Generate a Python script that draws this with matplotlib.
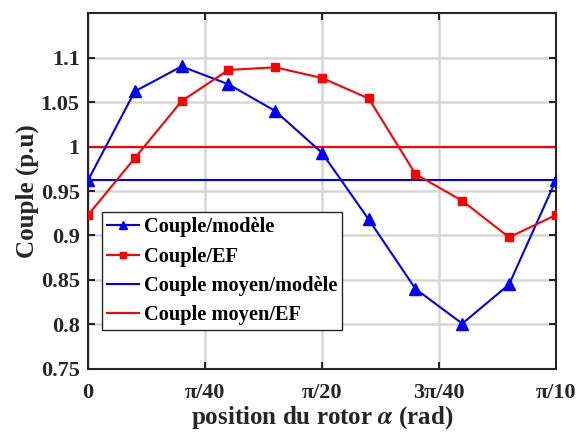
import numpy as np
import matplotlib
matplotlib.use("Agg")
import matplotlib.pyplot as plt

plt.rcParams['font.family'] = ['Liberation Serif', 'DejaVu Serif']
plt.rcParams['font.weight'] = 'bold'
plt.rcParams['mathtext.fontset'] = 'stix'

k = np.arange(11)
x = k * np.pi / 100
couple_modele = [0.962, 1.062, 1.090, 1.070, 1.040, 0.993, 0.918, 0.840, 0.801, 0.845, 0.962]
couple_ef = [0.923, 0.987, 1.051, 1.086, 1.089, 1.077, 1.054, 0.969, 0.939, 0.898, 0.923]
moyen_modele = 0.962
moyen_ef = 1.0

xticks = [0, np.pi/40, np.pi/20, 3*np.pi/40, np.pi/10]
xticklabels = ['0', 'π/40', 'π/20', '3π/40', 'π/10']
yticks = [0.75, 0.8, 0.85, 0.9, 0.95, 1.0, 1.05, 1.1]
yticklabels = ['0.75', '0.8', '0.85', '0.9', '0.95', '1', '1.05', '1.1']

fig = plt.figure(figsize=(5.76, 4.34), dpi=100)
ax = fig.add_axes([0.1528, 0.1498, 0.8122, 0.8202])

ax.plot(x, couple_modele, '-^', color='blue', lw=1.5, ms=9, label='Couple/modèle', zorder=3)
ax.plot(x, couple_ef, '-s', color='red', lw=1.5, ms=6, label='Couple/EF', zorder=3)
ax.plot([x[0], x[-1]], [moyen_modele]*2, '-', color='blue', lw=1.5, label='Couple moyen/modèle', zorder=2)
ax.plot([x[0], x[-1]], [moyen_ef]*2, '-', color='red', lw=1.5, label='Couple moyen/EF', zorder=2)

ax.set_xlim(0, np.pi/10)
ax.set_ylim(0.75, 1.15)
ax.set_xticks(xticks)
ax.set_xticklabels(xticklabels)
ax.set_yticks(yticks)
ax.set_yticklabels(yticklabels)
ax.tick_params(direction='in', top=True, right=True, labelsize=16, length=5, width=1.2,
               labelcolor='#262626')
ax.tick_params(axis='x', pad=10)
ax.tick_params(axis='y', pad=6)
ax.grid(True, color='#d6d6d6', lw=1.8)
ax.set_axisbelow(True)
for s in ax.spines.values():
    s.set_linewidth(1.5)
    s.set_color('#262626')

ax.set_xlabel(r'position du rotor $\alpha$ (rad)', fontsize=18, fontweight='bold', labelpad=1,
              color='#262626')
ax.set_ylabel('Couple (p.u)', fontsize=18, fontweight='bold', labelpad=1, color='#262626')

leg = ax.legend(loc='upper left', bbox_to_anchor=(0.03, 0.44), fontsize=14.7, frameon=True,
                fancybox=False, edgecolor='#262626', framealpha=1, handlelength=1.55,
                handletextpad=0.25, borderpad=0.25, labelspacing=0.45, borderaxespad=0,
                markerscale=0.65)
leg.get_frame().set_linewidth(1.0)

fig.savefig('out.png', dpi=100)
